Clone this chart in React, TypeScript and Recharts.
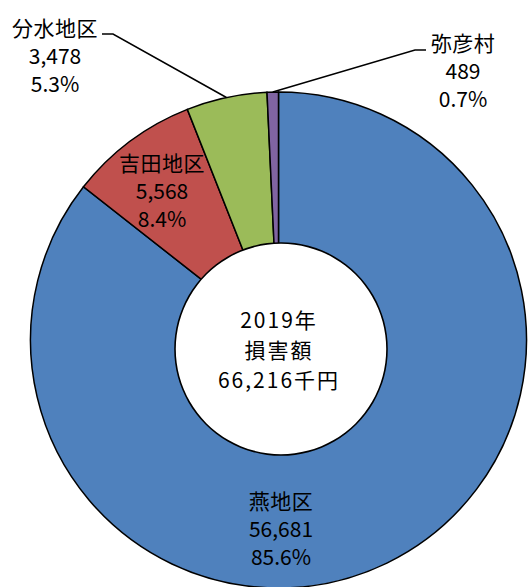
import { PieChart, Pie, Cell } from 'recharts';

const areas = ['燕地区', '吉田地区', '分水地区', '弥彦村'];
const damage = [56681, 5568, 3478, 489];
const colors = ['#4F81BD', '#C0504D', '#9BBB59', '#8064A2'];
const centerLines = ['2019年', '損害額'];
const unit = '千円';

const total = damage.reduce((s, v) => s + v, 0);
const series = areas.map((name, i) => ({ name, value: damage[i] }));

// label block centres relative to pie centre, plus optional leader knees
const labelLayout = [
  { dx: 2.5, dy: 160 },
  { dx: -116.5, dy: -178 },
  { dx: -223.5, dy: -313, knee: [-165.5, -306], end: [-176.5, -306] },
  { dx: 184.5, dy: -298, knee: [136.5, -290], end: [147.5, -290] },
];

const FONT = '"Noto Sans CJK JP", "Noto Sans", sans-serif';
const LINE = 28;
const RAD = Math.PI / 180;

function sliceLabel(props: any) {
  const { cx, cy, midAngle, outerRadius, index, value } = props;
  const l = labelLayout[index];
  const x = cx + l.dx;
  const y = cy + l.dy;
  const pct = ((value / total) * 100).toFixed(1) + '%';
  const lines = [areas[index], value.toLocaleString('en-US'), pct];
  let leader = null;
  if (l.knee) {
    const sx = cx + outerRadius * Math.cos(-midAngle * RAD);
    const sy = cy + outerRadius * Math.sin(-midAngle * RAD);
    leader = (
      <polyline
        points={`${sx},${sy} ${cx + l.knee[0]},${cy + l.knee[1]} ${cx + l.end[0]},${cy + l.end[1]}`}
        fill="none"
        stroke="#000"
        strokeWidth={1.5}
      />
    );
  }
  return (
    <g key={`lbl-${index}`}>
      {leader}
      {lines.map((t, i) => (
        <text
          key={i}
          x={x}
          y={y + i * LINE}
          textAnchor="middle"
          dominantBaseline="central"
          fontFamily={FONT}
          fontSize={21}
          letterSpacing={i === 0 ? 0.5 : 0}
          fill="#000"
        >
          {t}
        </text>
      ))}
    </g>
  );
}

function centerLabel(props: any) {
  const { cx, cy } = props;
  const lines = [...centerLines, total.toLocaleString('en-US') + unit];
  return (
    <g key="center">
      {lines.map((t, i) => (
        <text
          key={i}
          x={cx - 2}
          y={cy - 30 + i * 30}
          textAnchor="middle"
          dominantBaseline="central"
          fontFamily={FONT}
          fontSize={21}
          letterSpacing={2}
          fill="#000"
        >
          {t}
        </text>
      ))}
    </g>
  );
}

export default function App() {
  return (
    <div>
      <style>{'body{margin:0;background:#fff}'}</style>
      <PieChart width={528} height={587} margin={{ top: 0, right: 0, bottom: 0, left: 0 }}>
        <Pie
          data={series}
          dataKey="value"
          nameKey="name"
          cx={278.5}
          cy={340}
          outerRadius={248}
          startAngle={90}
          endAngle={-270}
          stroke="#000"
          strokeWidth={1.5}
          label={sliceLabel}
          labelLine={false}
          isAnimationActive={false}
        >
          {series.map((d, i) => (
            <Cell key={d.name} fill={colors[i]} />
          ))}
        </Pie>
        <Pie
          data={[{ value: 1 }]}
          dataKey="value"
          cx={281}
          cy={349}
          outerRadius={106}
          fill="#fff"
          stroke="none"
          label={centerLabel}
          labelLine={false}
          isAnimationActive={false}
        />
        <Pie
          data={[{ value: 1 }]}
          dataKey="value"
          cx={281}
          cy={349}
          innerRadius={105.2}
          outerRadius={106.8}
          fill="#000"
          stroke="none"
          isAnimationActive={false}
        />
      </PieChart>
    </div>
  );
}
